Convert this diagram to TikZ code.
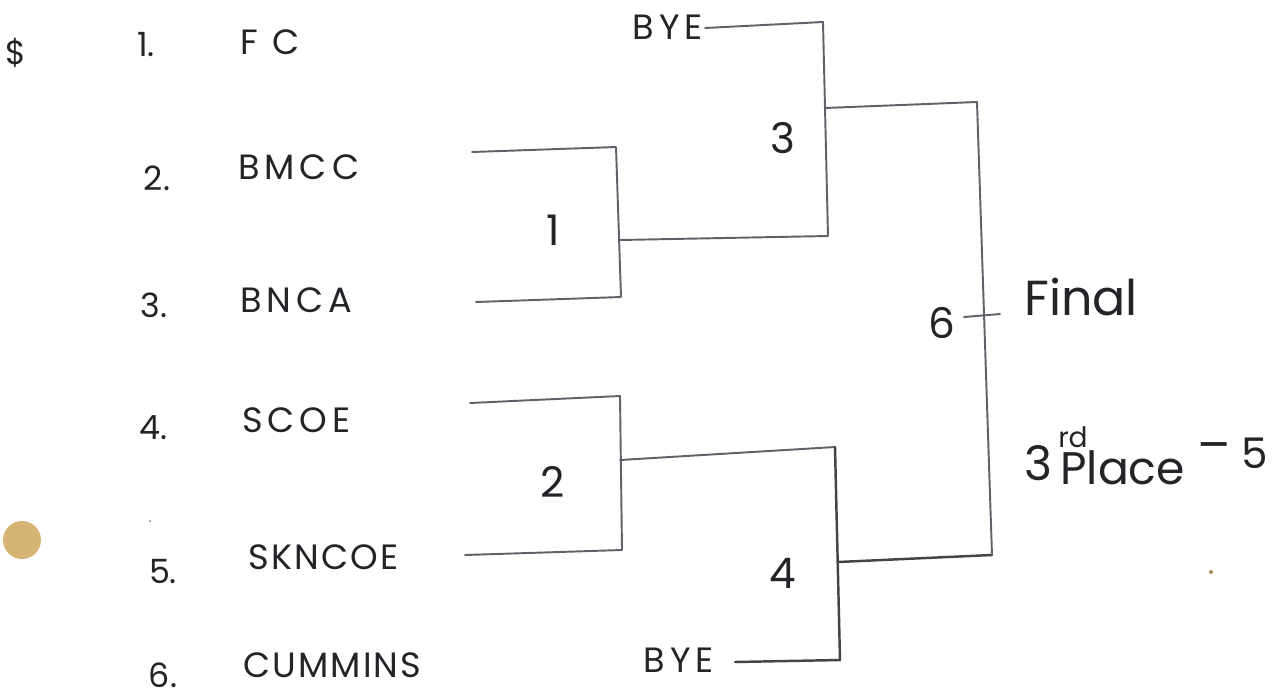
\documentclass[tikz,border=0pt]{standalone}
\usepackage{fontspec}
\newfontfamily\hand[LetterSpace=14]{Poppins}
\newfontfamily\handc[LetterSpace=6]{Poppins}
\newfontfamily\handn{Poppins}
\newfontfamily\handl{Poppins Light}
\definecolor{ink}{RGB}{35,35,40}
\definecolor{pen}{RGB}{95,98,105}
\definecolor{stain}{RGB}{214,180,118}
\begin{document}
\begin{tikzpicture}[x=0.02cm,y=-0.02cm,
  lbl/.style={font=\hand\fontsize{20}{24}\selectfont, text=ink, inner sep=0},
  num/.style={font=\handn\fontsize{19}{22}\selectfont, text=ink, inner sep=0},
  big/.style={font=\handn\fontsize{24}{28}\selectfont, text=ink, inner sep=0},
  br/.style={draw=pen, line width=1.1pt, line join=round, line cap=round},
  brd/.style={draw=ink!85, line width=1.4pt, line join=round, line cap=round}]
\useasboundingbox[fill=white] (0,0) rectangle (1286,698);

% stray marks
\node[num] (mark) at (16,53) {\$};
\fill[stain] (22,540) circle[radius=0.38cm];
\fill[ink!60] (150,521) circle[radius=0.02cm];
\fill[stain!80!black] (1211,572) circle[radius=0.04cm];

% team list
\node[num] (n1) at (146,45) {1.};
\node[lbl,anchor=west] (t1) at (240,42) {F C};
\node[num] (n2) at (157,178) {2.};
\node[lbl,anchor=west] (t2) at (238,167) {BMCC};
\node[num] (n3) at (154,305) {3.};
\node[lbl,anchor=west] (t3) at (240,300) {BNCA};
\node[num] (n4) at (154,428) {4.};
\node[lbl,anchor=west] (t4) at (242,420) {SCOE};
\node[num] (n5) at (163,572) {5.};
\node[lbl,anchor=west,font=\handc\fontsize{20}{24}\selectfont] (t5) at (248,557) {SKNCOE};
\node[num] (n6) at (163,675) {6.};
\node[lbl,anchor=west,font=\handc\fontsize{20}{24}\selectfont] (t6) at (243,665) {CUMMINS};

% bracket corners
\coordinate (a1) at (472,152);
\coordinate (a2) at (616,147);
\coordinate (a3) at (621,297);
\coordinate (a4) at (476,302);
\coordinate (o1) at (620,240);
\coordinate (b1) at (470,403);
\coordinate (b2) at (620,396);
\coordinate (b3) at (622,550);
\coordinate (b4) at (465,555);
\coordinate (o2) at (620,460);
\coordinate (c1) at (705,28);
\coordinate (c2) at (823,22);
\coordinate (c3) at (828,236);
\coordinate (o3) at (825,108);
\coordinate (d1) at (835,447);
\coordinate (d2) at (840,660);
\coordinate (d3) at (735,662);
\coordinate (o4) at (838,562);
\coordinate (f1) at (977,102);
\coordinate (f2) at (992,555);
\coordinate (k1) at (964,317);
\coordinate (k2) at (1000,314);

% match 1
\draw[br] (a1) -- (a2) -- (a3) -- (a4);
\draw[br] (o1) -- (c3);
\node[big] (m1) at (553,230) {1};
% match 2
\draw[br] (b1) -- (b2) -- (b3) -- (b4);
\draw[br] (o2) -- (d1);
\node[big] (m2) at (553,482) {2};
% match 3
\node[lbl,anchor=east] (bye1) at (703,27) {BYE};
\draw[br] (c1) -- (c2) -- (c3);
\draw[br] (o3) -- (f1);
\node[big] (m3) at (783,138) {3};
% match 4
\node[lbl,anchor=east] (bye2) at (714,660) {BYE};
\draw[brd] (d1) -- (d2) -- (d3);
\draw[brd] (o4) -- (f2);
\node[big] (m4) at (783,573) {4};
% final
\draw[br] (f1) -- (f2);
\draw[br] (k1) -- (k2);
\node[big] (m6) at (942,323) {6};
\node[font=\handn\fontsize{28}{32}\selectfont, text=ink, anchor=west, inner sep=0] (fin) at (1024,297) {Final};
% third place
\node[font=\handn\fontsize{27}{30}\selectfont, text=ink, inner sep=0] (th3) at (1038,463) {3};
\node[font=\handn\fontsize{16}{18}\selectfont, text=ink, inner sep=0] (rd) at (1073,437) {rd};
\node[font=\handn\fontsize{26}{30}\selectfont, text=ink, anchor=west, inner sep=0] (pl) at (1060,468) {Place};
\node[font=\handn\fontsize{28}{32}\selectfont, text=ink, inner sep=0] (dash) at (1214,453) {–};
\node[big] (five) at (1255,453) {5};
\end{tikzpicture}
\end{document}
